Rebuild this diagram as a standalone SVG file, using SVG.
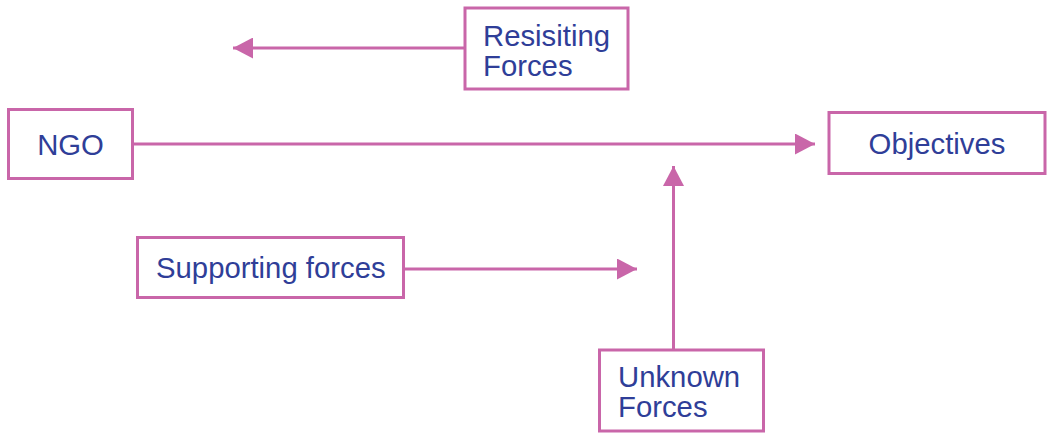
<svg xmlns="http://www.w3.org/2000/svg" width="1047" height="434" viewBox="0 0 1047 434">
<style>
.box{fill:#fff;stroke:#C966A9;stroke-width:3}
.t{font-family:"Liberation Sans",Arial,sans-serif;font-size:29.3px;fill:#2F3E98}
.c{fill:none;stroke:#C966A9;stroke-width:3}
</style>
<defs>
<marker id="ah" viewBox="0 0 20 21" refX="20" refY="10.5" markerWidth="20" markerHeight="21" markerUnits="userSpaceOnUse" orient="auto">
<path d="M0,0 L20,10.5 L0,21 Z" fill="#C966A9"/>
</marker>
</defs>
<rect width="1047" height="434" fill="#fff"/>
<g id="connectors">
<line class="c" x1="465" y1="48" x2="233" y2="48" marker-end="url(#ah)"/>
<line class="c" x1="133" y1="144" x2="815" y2="144" marker-end="url(#ah)"/>
<line class="c" x1="404" y1="269" x2="637" y2="269" marker-end="url(#ah)"/>
<line class="c" x1="673.5" y1="350" x2="673.5" y2="166" marker-end="url(#ah)"/>
</g>
<g id="resisting">
<rect class="box" x="465" y="8" width="163" height="81"/>
<text class="t" x="483" y="46">Resisiting</text>
<text class="t" x="483" y="76">Forces</text>
</g>
<g id="ngo">
<rect class="box" x="8.5" y="109.5" width="124" height="69"/>
<text class="t" x="70.5" y="154.5" text-anchor="middle">NGO</text>
</g>
<g id="objectives">
<rect class="box" x="829" y="112.5" width="216" height="61"/>
<text class="t" x="937" y="154" text-anchor="middle">Objectives</text>
</g>
<g id="supporting">
<rect class="box" x="137.5" y="237.5" width="266" height="60"/>
<text class="t" x="156" y="278">Supporting forces</text>
</g>
<g id="unknown">
<rect class="box" x="599.5" y="350" width="164" height="81"/>
<text class="t" x="618" y="387">Unknown</text>
<text class="t" x="618" y="417">Forces</text>
</g>
</svg>
